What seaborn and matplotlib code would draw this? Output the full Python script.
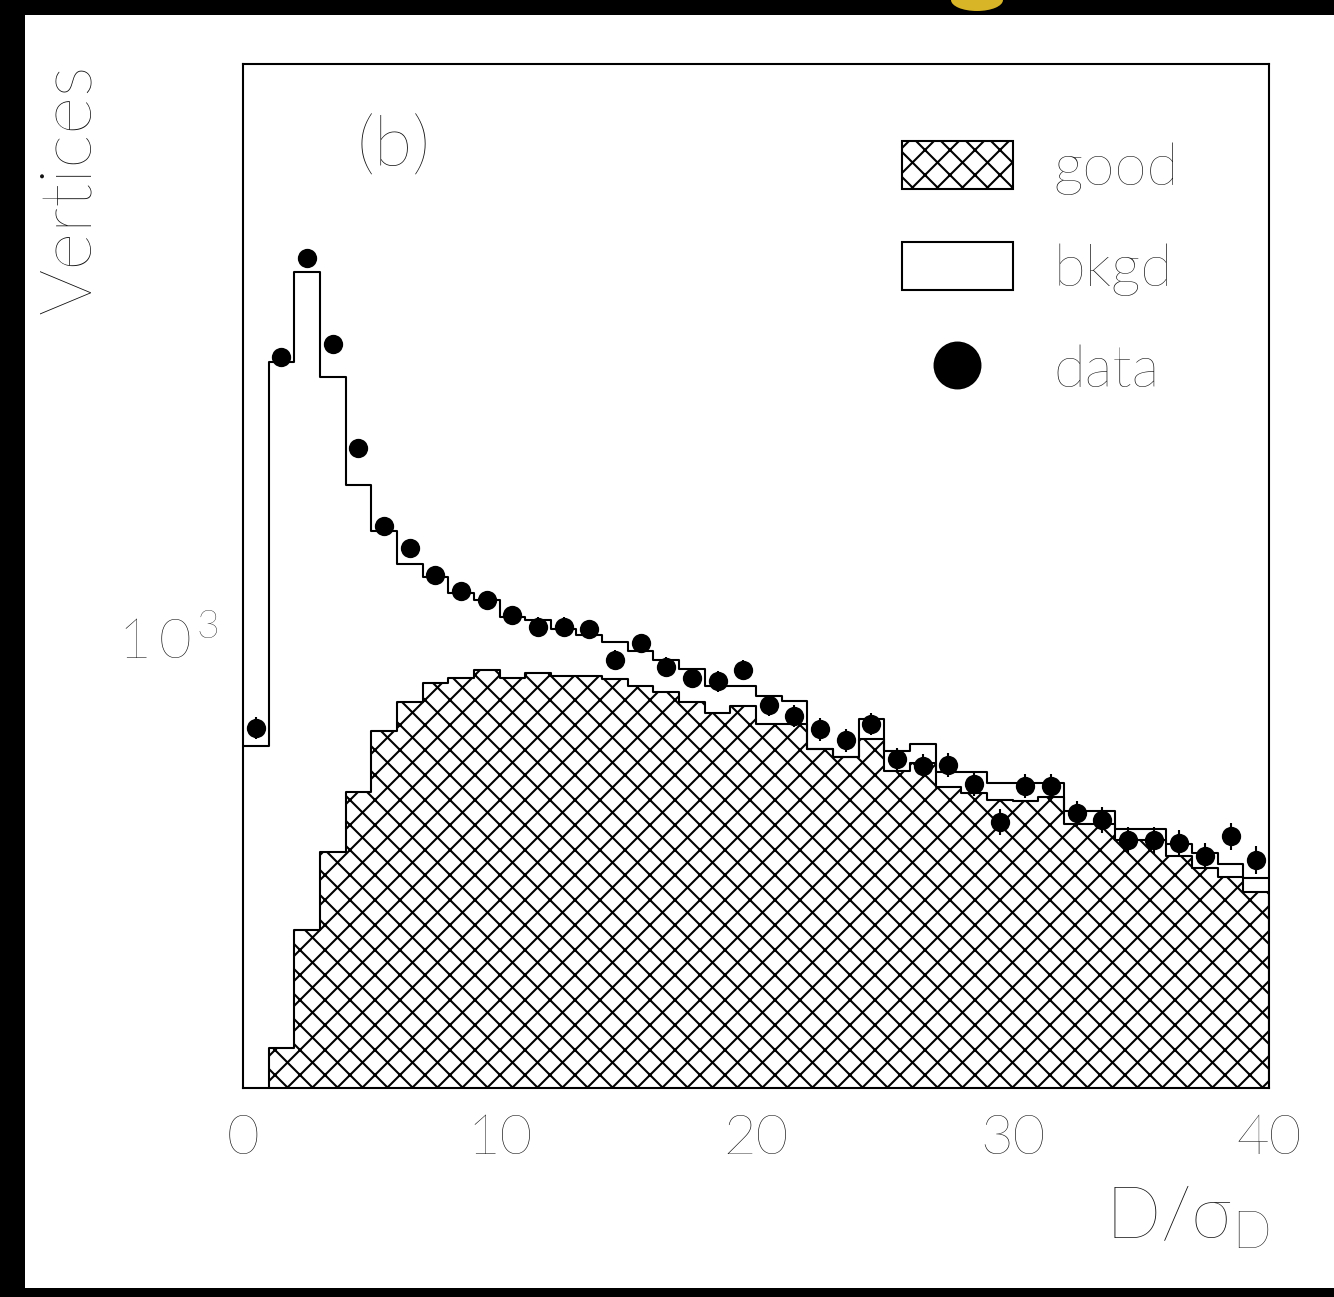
import numpy as np
import matplotlib
matplotlib.use("Agg")
import matplotlib.pyplot as plt
from matplotlib.patches import Rectangle, Patch, Ellipse
from matplotlib.lines import Line2D
from matplotlib.ticker import FixedLocator, FixedFormatter, NullFormatter
import seaborn as sns

# 40 bins of width 1 in D/sigma_D
centers = np.arange(40) + 0.5

# good + bkgd (open histogram)
total = [699, 2503, 3378, 2383, 1661, 1427, 1277, 1226, 1160, 1134,
         1073, 1061, 1030, 1010, 986, 958, 930, 901, 851, 851,
         823, 812, 691, 674, 764, 687, 703, 641, 641, 618,
         618, 618, 563, 563, 530, 530, 504, 489, 472, 450]
# good vertices only (hatched)
good = [0, 256, 379, 491, 600, 734, 808, 862, 875, 899,
        876, 891, 881, 881, 873, 851, 834, 808, 780, 796,
        751, 751, 691, 674, 715, 643, 659, 609, 598, 584,
        582, 590, 539, 539, 511, 511, 485, 465, 451, 430]
# data points
data = [741, 2546, 3531, 2657, 1878, 1451, 1350, 1233, 1169, 1134,
        1079, 1038, 1038, 1029, 930, 982, 909, 875, 865, 899,
        800, 772, 738, 712, 751, 668, 654, 656, 615, 542,
        612, 612, 558, 546, 511, 510, 506, 484, 517, 478]

x_major = [0, 10, 20, 30, 40]
x_minor = list(range(0, 41, 2))
y_minor = [300, 400, 500, 600, 700, 800, 900, 2000, 3000, 4000, 5000, 6000]

TXT = "#111111"

sns.set_style("white")
plt.rcParams["font.family"] = ["Lato", "DejaVu Sans"]
plt.rcParams["font.weight"] = "light"
plt.rcParams["axes.labelweight"] = "light"
plt.rcParams["mathtext.fontset"] = "custom"
plt.rcParams["mathtext.rm"] = "Lato:light"
plt.rcParams["mathtext.it"] = "Lato:light"
plt.rcParams["mathtext.default"] = "regular"
plt.rcParams["hatch.color"] = "black"
plt.rcParams["hatch.linewidth"] = 1.0

DPI = 150
W, H = 1334, 1297
fig = plt.figure(figsize=(W / DPI, H / DPI), dpi=DPI, facecolor="black")
fig.patches.append(Rectangle((25 / W, 9 / H), 1, (1288 - 15) / H,
                             transform=fig.transFigure, facecolor="white",
                             edgecolor="none", zorder=-2))
# yellow blob at the top edge of the scan
fig.patches.append(Ellipse((977 / W, 1.0), 52 / W, 22 / H,
                           transform=fig.transFigure, facecolor="#d8b526",
                           edgecolor="none", zorder=-1))
ax = fig.add_axes([243 / W, (H - 1088) / H, 1026 / W, (1088 - 64) / H])

sns.histplot(x=centers, weights=good, binwidth=1, binrange=(0, 40),
             element="step", fill=True, facecolor="white", edgecolor="black",
             hatch="xx", alpha=1, linewidth=1.0, ax=ax)
sns.histplot(x=centers, weights=total, binwidth=1, binrange=(0, 40),
             element="step", fill=False, color="black", linewidth=1.0, ax=ax)
ax.errorbar(centers, data, yerr=np.sqrt(data), fmt="none", ecolor="black",
            elinewidth=1.0, capsize=0, zorder=4)
sns.scatterplot(x=centers, y=data, color="black", s=86, linewidth=0,
                zorder=5, ax=ax)

ax.set_yscale("log")
ax.set_xlim(0, 40)
ax.set_ylim(224, 6734)

ax.xaxis.set_major_locator(FixedLocator(x_major))
ax.xaxis.set_minor_locator(FixedLocator(x_minor))
ax.set_xticklabels([str(v) for v in x_major])
ax.yaxis.set_major_locator(FixedLocator([1000]))
ax.yaxis.set_major_formatter(FixedFormatter([r"$1\,0^{\,3}$"]))
ax.yaxis.set_minor_locator(FixedLocator(y_minor))
ax.yaxis.set_minor_formatter(NullFormatter())
ax.tick_params(which="both", direction="in", top=False, right=False,
               width=1.0, color="black", labelsize=27, labelcolor=TXT)
ax.tick_params(which="major", length=20.6)
ax.tick_params(which="minor", length=10.5)
ax.tick_params(axis="x", pad=12)
ax.tick_params(axis="y", pad=12)
for s in ax.spines.values():
    s.set_linewidth(1.0)
    s.set_color("black")

ax.set_ylabel("Vertices", loc="top", fontsize=35, labelpad=7, color=TXT,
              fontweight="light")
ax.set_xlabel(r"$D/\sigma_{D}$", loc="right", fontsize=35, labelpad=10,
              color=TXT, fontweight="light")
ax.text(0.147, 0.918, "(b)", transform=ax.transAxes, fontsize=34,
        ha="center", va="center", color=TXT)

handles = [
    Patch(facecolor="white", edgecolor="black", hatch="xx", linewidth=1.0),
    Patch(facecolor="white", edgecolor="black", linewidth=1.0),
    Line2D([], [], marker="o", color="black", linestyle="none", markersize=22),
]
ax.legend(handles, ["good", "bkgd", "data"], loc="upper left",
          bbox_to_anchor=(0.642, 0.925), frameon=False, fontsize=28,
          handlelength=1.9, handleheight=0.9, handletextpad=0.7,
          labelspacing=0.8, borderpad=0, borderaxespad=0,
          labelcolor=TXT)

fig.savefig("out.png", dpi=DPI, facecolor=fig.get_facecolor())
